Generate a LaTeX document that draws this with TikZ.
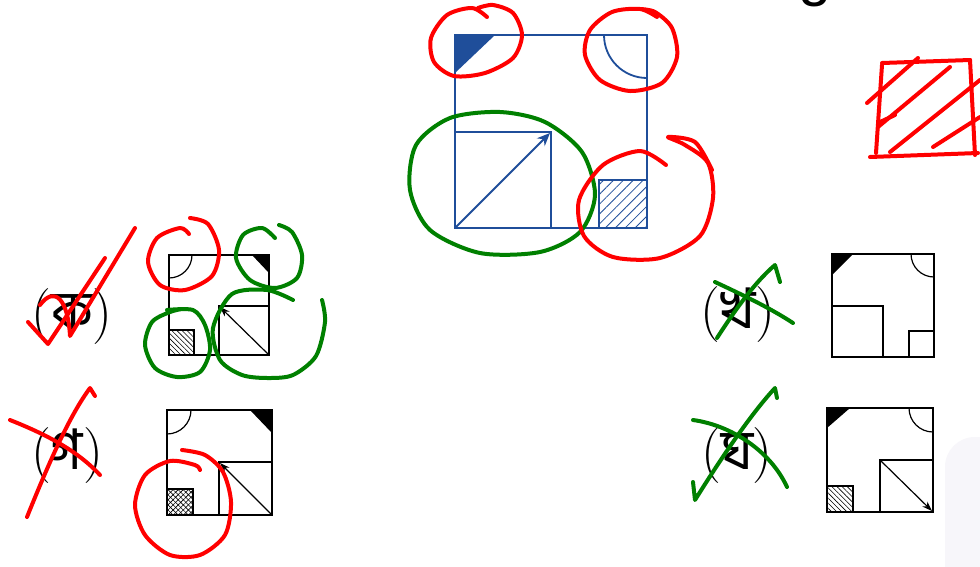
\documentclass[tikz,border=0pt]{standalone}
\usepackage{fontspec}
\newfontfamily\bn[Script=Bengali]{Hind Siliguri}
\newfontfamily\lsans{Liberation Sans}
\usetikzlibrary{arrows.meta,patterns.meta}
\definecolor{mblue}{HTML}{1F4E9A}
\definecolor{pred}{HTML}{FF0000}
\definecolor{pgreen}{HTML}{008000}
\definecolor{pgray}{HTML}{F7F6FA}
\tikzset{
  pen/.style={line width=4pt, line cap=round, line join=round},
  redpen/.style={pen, draw=pred},
  greenpen/.style={pen, draw=pgreen},
  fig/.style={line width=1.2pt, draw=black},
  bluefig/.style={line width=1.8pt, draw=mblue},
  lab/.style={font=\fontsize{56}{64}\selectfont, inner sep=0pt},
  smallarrow/.style={fig, -{Stealth[length=10pt,width=7pt]}},
  hatchA/.style={pattern={Lines[angle=-45,distance=3.6pt,line width=0.6pt]}, pattern color=black},
  hatchB/.style={pattern={Lines[angle=45,distance=3.6pt,line width=0.6pt]}, pattern color=black},
}
\begin{document}
\begin{tikzpicture}[x=1pt,y=-1pt]
\useasboundingbox (0,0) rectangle (980,566);
\fill[white] (0,0) rectangle (980,566);
\fill[pgray, rounded corners=30pt] (945,437) rectangle (1010,600);

% partial heading glyph at top
\node[font=\lsans\fontsize{60}{64}\selectfont, anchor=base, inner sep=0pt] (head) at (815,-6) {g};

% ---------- main (question) figure ----------
\fill[pattern={Lines[angle=45,distance=7pt,line width=0.8pt]}, pattern color=mblue] (599,180) rectangle (647,228);
\draw[bluefig] (599,180) rectangle (647,228);
\draw[bluefig] (455,132) rectangle (551,228);
\fill[mblue] (455,35) -- (495,35) -- (455,73) -- cycle;
\begin{scope}
  \clip (455,35) rectangle (647,228);
  \draw[bluefig] (647,35) circle[radius=43pt];
\end{scope}
\draw[bluefig] (455,35) rectangle (647,228);
\draw[bluefig, -{Stealth[length=13pt,width=11pt]}] (456,227) -- (550,133);

% ---------- option ka ----------
\node[lab] (lka) at (72,317) {({\bn ক})};
\fill[hatchA] (169,330) rectangle (194,355);
\draw[fig] (169,330) rectangle (194,355);
\draw[fig] (219,306) rectangle (269,355);
\fill[black] (252,255) -- (269,255) -- (269,273) -- cycle;
\begin{scope}
  \clip (169,255) rectangle (269,355);
  \draw[fig] (169,255) circle[radius=23pt];
\end{scope}
\draw[fig] (169,255) rectangle (269,355);
\draw[smallarrow] (268,354) -- (220,307);

% ---------- option ga ----------
\node[lab] (lga) at (67,456) {({\bn গ})};
\fill[hatchA] (167,489) rectangle (193,515);
\fill[hatchB] (167,489) rectangle (193,515);
\draw[fig] (167,489) rectangle (193,515);
\draw[fig] (219,462) rectangle (272,515);
\fill[black] (250,410) -- (272,410) -- (272,433) -- cycle;
\begin{scope}
  \clip (167,410) rectangle (272,515);
  \draw[fig] (167,410) circle[radius=24pt];
\end{scope}
\draw[fig] (167,410) rectangle (272,515);
\draw[smallarrow] (271,514) -- (220,463);

% ---------- option kha ----------
\node[lab] (lkha) at (738,315) {({\bn খ})};
\draw[fig] (832,306) rectangle (883,357);
\draw[fig] (909,331) rectangle (934,357);
\fill[black] (832,254) -- (853,254) -- (832,275) -- cycle;
\begin{scope}
  \clip (832,254) rectangle (934,357);
  \draw[fig] (934,254) circle[radius=23pt];
\end{scope}
\draw[fig] (832,254) rectangle (934,357);

% ---------- option gha ----------
\node[lab] (lgha) at (737,456) {({\bn ঘ})};
\fill[hatchA] (827,486) rectangle (853,512);
\draw[fig] (827,486) rectangle (853,512);
\draw[fig] (880,460) rectangle (933,512);
\fill[black] (827,408) -- (850,408) -- (827,428) -- cycle;
\begin{scope}
  \clip (827,408) rectangle (933,512);
  \draw[fig] (933,408) circle[radius=24pt];
\end{scope}
\draw[fig] (827,408) rectangle (933,512);
\draw[smallarrow] (881,461) -- (932,511);

% ---------- annotations: main ----------
\draw[redpen] plot[smooth] coordinates {(487,17) (472,8) (447,15) (431,38) (434,62) (454,76) (485,73) (513,58) (522,35) (513,13) (493,5) (478,8)};
\draw[redpen] plot[smooth] coordinates {(657,17) (640,9) (612,12) (590,30) (585,55) (600,80) (630,91) (662,83) (677,57) (672,28) (655,12) (640,9)};
\draw[greenpen] plot[smooth cycle] coordinates {(500,112) (450,118) (416,145) (410,190) (430,230) (480,253) (540,252) (580,232) (595,195) (582,152) (545,122)};
\draw[redpen] plot[smooth] coordinates {(666,165) (640,151) (603,165) (579,200) (584,236) (613,257) (660,258) (700,236) (713,198) (708,163) (685,145) (668,137) (695,142) (712,170)};

% top-right scribble box
\draw[redpen] (882,63) -- (970,60);
\draw[redpen] (970,60) -- (975,155);
\draw[redpen] (870,157) -- (978,153);
\draw[redpen] (882,65) -- (876,153);
\draw[redpen] (867,103) -- (918,58);
\draw[redpen] (878,127) -- (950,67);
\draw[redpen] (880,122) -- (895,115);
\draw[redpen] (890,152) -- (980,80);
\draw[redpen] (933,147) -- (980,117);

% ---------- annotations: options ----------
% check over ka
\draw[redpen] (28,322) -- (48,344) -- (105,258);
\draw[redpen] (40,305) .. controls (55,285) and (68,300) .. (70,336) -- (135,228);
% loops on ka figure
\draw[redpen] plot[smooth] coordinates {(190,218) (208,224) (219,250) (212,276) (185,290) (160,285) (148,262) (157,238) (180,228) (189,234)};
\draw[greenpen] plot[smooth] coordinates {(275,238) (262,228) (243,235) (236,258) (250,280) (275,288) (297,278) (302,255) (292,232) (279,225)};
\draw[greenpen] plot[smooth] coordinates {(167,310) (193,310) (205,325) (210,350) (200,372) (177,377) (155,368) (145,345) (152,322) (170,312) (182,309)};
\draw[greenpen] plot[smooth] coordinates {(293,300) (267,290) (232,294) (213,328) (220,360) (242,375) (268,378) (293,375) (316,356) (325,322) (322,300)};

% cross over ga
\draw[redpen] (10,420) .. controls (40,432) and (75,448) .. (100,475);
\draw[redpen] (27,517) .. controls (50,460) and (70,415) .. (90,388) -- (95,396);
\draw[redpen] plot[smooth] coordinates {(182,450) (205,455) (223,472) (231,502) (225,535) (200,555) (170,555) (145,535) (135,505) (145,475) (170,461) (195,465) (200,470)};

% cross over kha
\draw[greenpen] (715,282) .. controls (745,296) and (770,308) .. (793,323);
\draw[greenpen] (717,338) .. controls (735,310) and (755,282) .. (775,265) -- (780,282);

% cross over gha
\draw[greenpen] (693,420) .. controls (730,425) and (770,450) .. (787,487);
\draw[greenpen] (693,482) -- (695,500) .. controls (720,460) and (750,415) .. (775,388) -- (777,398);
\end{tikzpicture}
\end{document}
